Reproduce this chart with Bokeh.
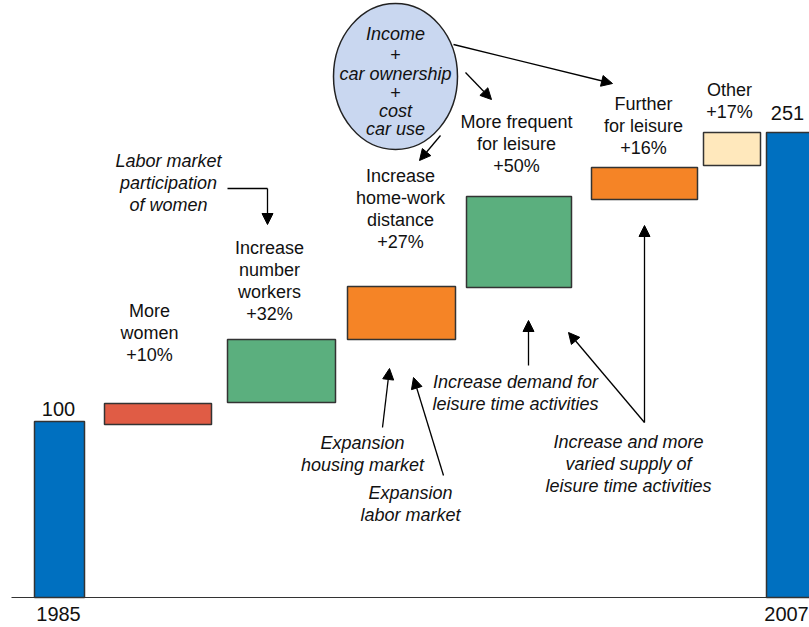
from bokeh.plotting import figure
from bokeh.models import Range1d, Arrow, NormalHead, ColumnDataSource
from bokeh.core.properties import value
from bokeh.embed import file_html
from bokeh.resources import INLINE

# ---------------- data (1985 = 100) ----------------
categories = ["1985", "More women", "Increase number workers",
              "Increase home-work distance", "More frequent for leisure",
              "Further for leisure", "Other", "2007"]
bar_bottom = [0, 98.3, 110.8, 146.6, 176.1, 226.1, 245.5, 0]
bar_top = [100, 110.2, 146.6, 176.7, 227.8, 244.3, 264.2, 264.2]
value_labels = ["100", "+10%", "+32%", "+27%", "+50%", "+16%", "+17%", "251"]
label_words = [[], ["More", "women"], ["Increase", "number", "workers"],
               ["Increase", "home-work", "distance"], ["More frequent", "for leisure"],
               ["Further", "for leisure"], ["Other"], []]
year_labels = ["1985", "2007"]

# ---------------- layout / styles ----------------
BASE_Y = 597.0      # screen row of value 0 (pixels)
PX_PER_UNIT = 1.76  # pixels per index unit


def ty(Y):
    return (BASE_Y - Y) / PX_PER_UNIT


bar_left = [34, 104, 227, 347, 466, 591, 703, 766]
bar_right = [84, 211, 335, 455, 571, 697, 760, 816]
bar_colors = ["#0070C0", "#E05C45", "#5BAF7E", "#F58426", "#5BAF7E",
              "#F58426", "#FFE8BC", "#0070C0"]
# label anchors (center x, row of first line) in pixels
label_anchor = [(58, 408), (149, 310), (269, 247), (400, 175), (516, 121),
                (643, 103), (729, 89), (787, 112)]
LH = 22.2
FONT = value("Liberation Sans")
TXT = "#111111"

p = figure(width=809, height=627, x_range=Range1d(0, 809),
           y_range=Range1d(ty(627), ty(0)), output_backend="svg",
           toolbar_location=None, min_border=0,
           x_axis_location=None, y_axis_location=None)
p.grid.visible = False
p.outline_line_color = None
p.background_fill_color = "white"

# baseline
p.segment(x0=[11], y0=[0], x1=[809], y1=[0], line_color="#333333", line_width=1.2)

# bars
src = ColumnDataSource(dict(left=bar_left, right=bar_right, bottom=bar_bottom,
                            top=bar_top, color=bar_colors, cat=categories))
p.quad(left="left", right="right", bottom="bottom", top="top", fill_color="color",
       line_color="#333333", line_width=1.5, source=src)

# bar labels
lx, ly, lt, nx, ny, nt = [], [], [], [], [], []
for i, cat in enumerate(categories):
    cx, y0 = label_anchor[i]
    if label_words[i]:
        lines = label_words[i] + [value_labels[i]]
        for k, line in enumerate(lines):
            lx.append(cx)
            ly.append(ty(y0 + k * LH))
            lt.append(line)
    else:
        nx.append(cx)
        ny.append(ty(y0))
        nt.append(value_labels[i])
p.text(x=lx, y=ly, text=lt, text_font=FONT, text_font_size="18px",
       text_align="center", text_baseline="middle", text_color=TXT)
p.text(x=nx, y=ny, text=nt, text_font=FONT, text_font_size="20px",
       text_align="center", text_baseline="middle", text_color=TXT)

# year labels
p.text(x=[58, 786], y=[ty(613), ty(613)], text=year_labels, text_font=FONT,
       text_font_size="20px", text_align="center", text_baseline="middle",
       text_color=TXT)

# ellipse of drivers
p.ellipse(x=[395], y=[ty(76)], width=124, height=146 / PX_PER_UNIT,
          fill_color="#C9D7F0", line_color="#222222", line_width=1.5)
ell_lines = [("Income", 33, "italic"), ("+", 54, "normal"),
             ("car ownership", 73, "italic"), ("+", 92, "normal"),
             ("cost", 110, "italic"), ("car use", 128, "italic")]
for t, yy, st in ell_lines:
    p.text(x=[395], y=[ty(yy)], text=[t], text_font=FONT, text_font_size="18px",
           text_font_style=st, text_align="center", text_baseline="middle",
           text_color=TXT)

# italic annotations
notes = [("Labor market\nparticipation\nof women", 168, 160),
         ("Expansion\nhousing market", 362, 442),
         ("Expansion\nlabor market", 410, 492),
         ("Increase demand for\nleisure time activities", 515, 381),
         ("Increase and more\nvaried supply of\nleisure time activities", 628, 441)]
ix, iy, it = [], [], []
for t, cx, y0 in notes:
    for k, line in enumerate(t.split("\n")):
        ix.append(cx)
        iy.append(ty(y0 + k * LH))
        it.append(line)
p.text(x=ix, y=iy, text=it, text_font=FONT, text_font_size="18px",
       text_font_style="italic", text_align="center", text_baseline="middle",
       text_color=TXT)

# arrows
p.segment(x0=[227], y0=[ty(188)], x1=[267], y1=[ty(188)], line_color="black",
          line_width=1.3)
arrows = [((267, 188), (267, 224)),
          ((453, 44), (612, 83)),
          ((465, 72), (491, 99)),
          ((440, 135), (419, 160)),
          ((382, 427), (389, 368)),
          ((443, 475), (413, 377)),
          ((528, 365), (528, 320)),
          ((644, 422), (644, 225)),
          ((644, 422), (568, 332))]
for (xs, ys), (xe, ye) in arrows:
    p.add_layout(Arrow(x_start=xs, y_start=ty(ys), x_end=xe, y_end=ty(ye),
                       line_color="black", line_width=1.3,
                       end=NormalHead(size=11, fill_color="black",
                                      line_color="black", line_width=1)))

open("out.html", "w").write(file_html(p, INLINE))
